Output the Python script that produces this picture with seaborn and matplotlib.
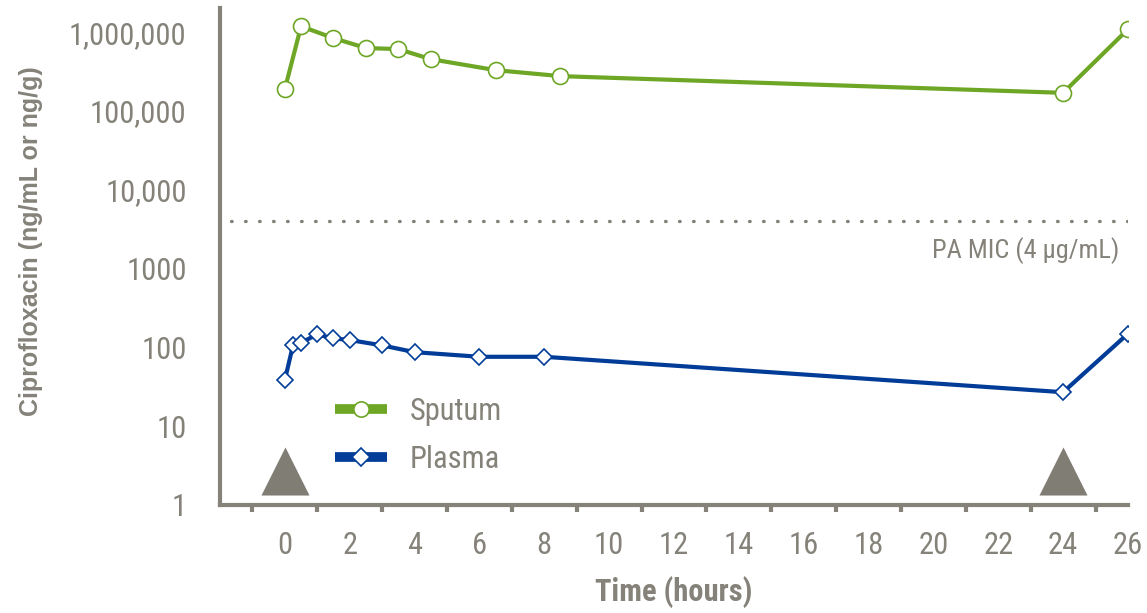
import matplotlib
matplotlib.use("Agg")
import matplotlib.pyplot as plt
import matplotlib.transforms as mtransforms
from matplotlib.lines import Line2D
import pandas as pd
import seaborn as sns

# ---- data -------------------------------------------------------------
sputum_time = [0, 0.5, 1.5, 2.5, 3.5, 4.5, 6.5, 8.5, 24, 26]
sputum_conc = [190000, 1190000, 840000, 630000, 610000, 455000,
               330000, 277000, 170000, 1090000]

plasma_time = [0, 0.25, 0.5, 1, 1.5, 2, 3, 4, 6, 8, 24, 26]
plasma_conc = [38.5, 106, 115, 146, 130, 124, 106, 87, 76, 76, 27, 149]

dose_times = [0, 24]
mic_value = 4000          # ng/mL  (4 µg/mL)
mic_label = "PA MIC (4 \u00b5g/mL)"

x_major = list(range(0, 27, 2))
x_minor = list(range(-1, 26, 2))
y_ticks = [1, 10, 100, 1000, 10000, 100000, 1000000]
y_ticklabels = ["1", "10", "100", "1000", "10,000", "100,000", "1,000,000"]

# ---- style ------------------------------------------------------------
GREEN = "#6ea626"
BLUE = "#003c98"
GRAY = "#848279"

sns.set_theme(style="white")
plt.rcParams["font.family"] = ["Roboto Condensed", "DejaVu Sans"]

fig = plt.figure(figsize=(11.47, 6.13), dpi=100)
ax = fig.add_axes([0.1918, 0.1762, 0.7916, 0.8108])

df_sp = pd.DataFrame({"time": sputum_time, "conc": sputum_conc})
df_pl = pd.DataFrame({"time": plasma_time, "conc": plasma_conc})

sns.lineplot(data=df_sp, x="time", y="conc", ax=ax, color=GREEN, lw=3.0,
             marker="o", markersize=11.5, markerfacecolor="white",
             markeredgecolor=GREEN, markeredgewidth=1.2, legend=False, zorder=4)
sns.lineplot(data=df_pl, x="time", y="conc", ax=ax, color=BLUE, lw=3.0,
             marker="D", markersize=8.6, markerfacecolor="white",
             markeredgecolor=BLUE, markeredgewidth=1.2, legend=False, zorder=4)

# MIC threshold
ax.hlines(mic_value, -1.65, 26, colors=GRAY, linestyles=(0, (0.2, 4.0)),
          lw=2.4, capstyle="round", zorder=2)
ax.text(25.74, 1700, mic_label, ha="right", va="center", fontsize=19,
        color=GRAY)

# dosing markers
trans = mtransforms.blended_transform_factory(ax.transData, ax.transAxes)
ax.scatter(dose_times, [0.0674] * len(dose_times), marker="^", s=34.6 ** 2,
           color="#807d75", linewidths=0, transform=trans, zorder=3,
           clip_on=False)

# axes
ax.set_yscale("log")
ax.set_ylim(1, 2.03e6)
ax.set_xlim(-2, 26)
ax.set_yticks(y_ticks)
ax.set_yticklabels(y_ticklabels)
ax.yaxis.set_minor_locator(matplotlib.ticker.NullLocator())
ax.set_xticks(x_major)
ax.set_xticks(x_minor, minor=True)

for side in ["top", "right"]:
    ax.spines[side].set_visible(False)
for side in ["left", "bottom"]:
    ax.spines[side].set_color(GRAY)
    ax.spines[side].set_linewidth(3)

ax.tick_params(axis="both", which="major", direction="out", color=GRAY,
               width=3, length=8, labelcolor=GRAY, labelsize=22)
ax.tick_params(axis="y", which="major", pad=16)
ax.tick_params(axis="x", which="major", pad=11)
ax.tick_params(axis="x", which="minor", direction="out", color=GRAY,
               width=3, length=5, bottom=True)

ax.set_xlabel("Time (hours)", fontsize=22, fontweight="bold", color=GRAY)
ax.set_ylabel("Ciprofloxacin (ng/mL or ng/g)", fontsize=18,
              fontweight="bold", color=GRAY,
              family=["Liberation Sans", "DejaVu Sans"])
ax.xaxis.set_label_coords(0.5, -0.142)
ax.yaxis.set_label_coords(-0.195, 0.531)

# legend
handles = [
    Line2D([], [], color=GREEN, lw=7, marker="o", markersize=11,
           markerfacecolor="white", markeredgecolor=GREEN, markeredgewidth=1.2,
           solid_capstyle="butt"),
    Line2D([], [], color=BLUE, lw=7, marker="D", markersize=9,
           markerfacecolor="white", markeredgecolor=BLUE, markeredgewidth=1.2,
           solid_capstyle="butt"),
]
leg = ax.legend(handles, ["Sputum", "Plasma"], loc="upper left",
                bbox_to_anchor=(0.1267, 0.218), frameon=False, fontsize=22,
                handlelength=1.7, handletextpad=0.75, borderpad=0,
                borderaxespad=0, labelspacing=0.62)
for t in leg.get_texts():
    t.set_color(GRAY)

fig.savefig("out.png", dpi=100)
